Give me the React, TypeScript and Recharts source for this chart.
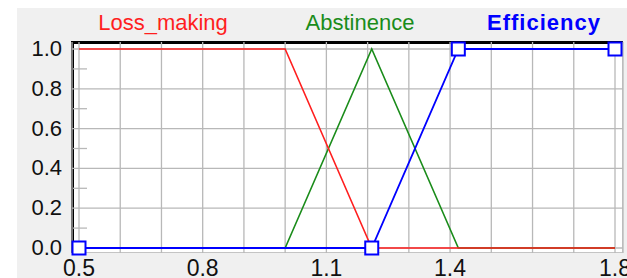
import { LineChart, Line, XAxis, YAxis, CartesianGrid } from "recharts";

// membership functions (x = ratio, y = degree)
const lossMaking = [
  { x: 0.5, y: 1 },
  { x: 1.0, y: 1 },
  { x: 1.21, y: 0 },
  { x: 1.8, y: 0 },
];
const abstinence = [
  { x: 0.5, y: 0 },
  { x: 1.0, y: 0 },
  { x: 1.21, y: 1 },
  { x: 1.42, y: 0 },
  { x: 1.8, y: 0 },
];
const efficiency = [
  { x: 0.5, y: 0 },
  { x: 1.21, y: 0 },
  { x: 1.42, y: 1 },
  { x: 1.8, y: 1 },
];

const seriesNames = ["Loss_making", "Abstinence", "Efficiency"];
const seriesColors = ["#ff1e1e", "#1a8c1a", "#0000ff"];

const xGridTicks = [0.5, 0.6, 0.7, 0.8, 0.9, 1.0, 1.1, 1.2, 1.3, 1.4, 1.5, 1.6, 1.7, 1.8];
const xLabelTicks = [0.5, 0.8, 1.1, 1.4, 1.8];
const yTicks = [0, 0.1, 0.2, 0.3, 0.4, 0.5, 0.6, 0.7, 0.8, 0.9, 1.0];
const yGridValues = [0, 0.2, 0.4, 0.6, 0.8, 1.0];

const FONT = '"Liberation Sans", Arial, sans-serif';

const XTick = (props: any) => {
  const { x, y, payload } = props;
  const v = Number(payload.value);
  if (!xLabelTicks.some((t) => Math.abs(t - v) < 1e-6)) return <g />;
  return (
    <text x={x} y={y + 23} textAnchor="middle" fontSize={23} fontFamily={FONT} fill="#111">
      {v.toFixed(1)}
    </text>
  );
};

const YTick = (props: any) => {
  const { x, y, payload } = props;
  const v = Number(payload.value);
  const major = Math.round(v * 10) % 2 === 0;
  if (!major) {
    // short minor tick inside the plot
    return <line x1={x + 11} x2={x + 25} y1={y} y2={y} stroke="#b8b8b8" strokeWidth={1.3} />;
  }
  return (
    <text x={x} y={y + 7} textAnchor="end" fontSize={22} fontFamily={FONT} fill="#111">
      {v.toFixed(1)}
    </text>
  );
};

const Square = (props: any) => {
  const { cx, cy, index } = props;
  return (
    <rect
      key={`sq-${index}`}
      x={cx - 6.5}
      y={cy - 6.5}
      width={13}
      height={13}
      fill="#fff"
      stroke="#0000ff"
      strokeWidth={2}
    />
  );
};

const legendCenters = [163, 360, 544];

export default function App() {
  return (
    <div style={{ position: "relative", width: 627, height: 278, background: "#fff", overflow: "hidden" }}>
      <style>{"body{margin:0}"}</style>
      <div style={{ position: "absolute", left: 17, top: 8, right: 0, bottom: 0, background: "#f0f0f0" }} />
      <div
        style={{
          position: "absolute",
          left: 71,
          top: 41,
          width: 552,
          height: 212,
          boxSizing: "border-box",
          background: "#fff",
          borderLeft: "3px solid #000",
          borderTop: "3px solid #000",
          borderRight: "1px solid #c4c4c4",
          borderBottom: "1px solid #c4c4c4",
        }}
      />
      {seriesNames.map((name, i) => (
        <div
          key={name}
          style={{
            position: "absolute",
            left: legendCenters[i],
            top: 10,
            transform: "translateX(-50%)",
            fontFamily: FONT,
            fontSize: 22,
            lineHeight: "26px",
            fontWeight: i === 2 ? 700 : 400,
            letterSpacing: i === 2 ? 1 : 0,
            color: seriesColors[i],
            whiteSpace: "nowrap",
          }}
        >
          {name}
        </div>
      ))}
      <div style={{ position: "absolute", left: 0, top: 0 }}>
        <LineChart width={627} height={278} margin={{ top: 42, right: 4, left: 17, bottom: 0 }}>
          <CartesianGrid
            stroke="#b8b8b8"
            strokeWidth={1.3}
            horizontalValues={yGridValues}
          />
          <XAxis
            type="number"
            dataKey="x"
            domain={[0.5, 1.8]}
            ticks={xGridTicks}
            interval={0}
            padding={{ left: 7, right: 8 }}
            height={25}
            axisLine={false}
            tickLine={false}
            tickSize={0}
            tickMargin={0}
            tick={<XTick />}
          />
          <YAxis
            type="number"
            dataKey="y"
            domain={[0, 1]}
            ticks={yTicks}
            interval={0}
            padding={{ top: 7, bottom: 5 }}
            width={55}
            axisLine={false}
            tickLine={false}
            tickSize={0}
            tickMargin={10}
            tick={<YTick />}
          />
          <Line
            data={abstinence}
            dataKey="y"
            name={seriesNames[1]}
            stroke={seriesColors[1]}
            strokeWidth={1.6}
            dot={false}
            isAnimationActive={false}
          />
          <Line
            data={lossMaking}
            dataKey="y"
            name={seriesNames[0]}
            stroke={seriesColors[0]}
            strokeWidth={1.6}
            dot={false}
            isAnimationActive={false}
          />
          <Line
            data={efficiency}
            dataKey="y"
            name={seriesNames[2]}
            stroke={seriesColors[2]}
            strokeWidth={1.8}
            dot={<Square />}
            isAnimationActive={false}
          />
        </LineChart>
      </div>
    </div>
  );
}
